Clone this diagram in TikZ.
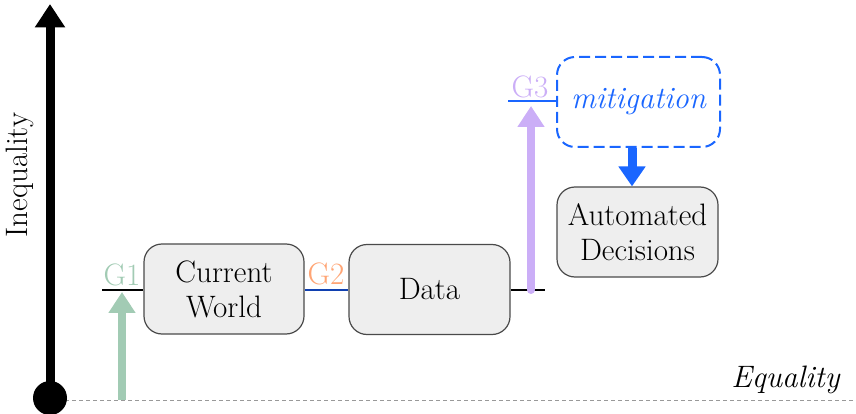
\documentclass[tikz,border=0pt]{standalone}
\usetikzlibrary{arrows.meta}
\definecolor{gone}{HTML}{A2CBB4}
\definecolor{gtwo}{HTML}{FFA575}
\definecolor{gthree}{HTML}{CBAEF7}
\definecolor{mblue}{HTML}{1A66FF}
\definecolor{dblue}{HTML}{1040B0}
\definecolor{boxfill}{HTML}{EEEEEE}
\definecolor{boxdraw}{HTML}{4A4A4A}
\begin{document}
\begin{tikzpicture}[x=1pt,y=-1pt,
  every node/.style={font=\fontsize{31}{35}\selectfont},
  procbox/.style={draw=boxdraw, line width=1.2pt, fill=boxfill, rounded corners=18pt,
    minimum width=160pt, minimum height=90pt, align=center, inner sep=0pt},
  mitbox/.style={draw=mblue, line width=2pt, dash pattern=on 11pt off 5pt, rounded corners=18pt,
    minimum width=163pt, minimum height=90pt, align=center, inner sep=0pt, text=mblue},
  glabel/.style={inner sep=0pt, anchor=base},
  bigarrow/.style={line width=#1, -{Triangle[width=3.2*#1, length=2.6*#1]}}
]
\useasboundingbox (0,0) rectangle (856,414);

% axis
\coordinate (origin) at (50,398);
\coordinate (top) at (50,4);
\coordinate (dashend) at (856,400);
\draw[gray!80, line width=0.8pt, dash pattern=on 4pt off 3pt] (origin) ++(15,2) coordinate (dashstart) -- (dashend);
\draw[bigarrow=9pt] (origin) -- (top);
\fill (origin) circle (17);
\node[rotate=90, anchor=center] (ineq) at (20,175) {Inequality};
\node[anchor=base east, font=\fontsize{31}{35}\selectfont\itshape] (eq) at (843,387) {Equality};

% boxes
\node[procbox] (cw) at (224,289) {Current\\World};
\node[procbox, minimum width=161pt] (data) at (429.5,289.5) {Data};
\node[mitbox] (mit) at (638.5,102) {\itshape mitigation};
\node[procbox, minimum width=161pt] (ad) at (637.5,232) {Automated\\Decisions};

% G1
\coordinate (g1l) at (102,290);
\draw[line width=1.3pt] (g1l) -- (cw.west |- g1l);
\coordinate (g1base) at (122,400);
\coordinate (g1tip) at (122,292);
\draw[gone, bigarrow=8pt] (g1base) -- (g1tip);
\node[glabel, text=gone] (g1) at (122,285) {G1};

% G2
\draw[dblue, line width=1.3pt] (cw.east |- g1l) -- (data.west |- g1l);
\node[glabel, text=gtwo] (g2) at (326,284) {G2};

% after data
\coordinate (dataend) at (545,290);
\draw[line width=1.3pt] (data.east |- dataend) -- (dataend);
\coordinate (g3base) at (531,290);
\coordinate (g3tip) at (531,106);
\draw[gthree, line cap=round, line width=8pt] (g3base) -- (531,125);
\draw[gthree, bigarrow=8pt] (531,127) -- (g3tip);

% G3
\coordinate (g3l) at (508,101);
\draw[mblue, line width=1.3pt] (g3l) -- (mit.west |- g3l);
\node[glabel, text=gthree] (g3) at (530,98) {G3};

% mitigation -> automated decisions
\draw[mblue, line width=9pt, -{Triangle[width=26pt, length=20pt]}] (mit.south -| 632,0) -- (ad.north -| 632,0);
\end{tikzpicture}
\end{document}
